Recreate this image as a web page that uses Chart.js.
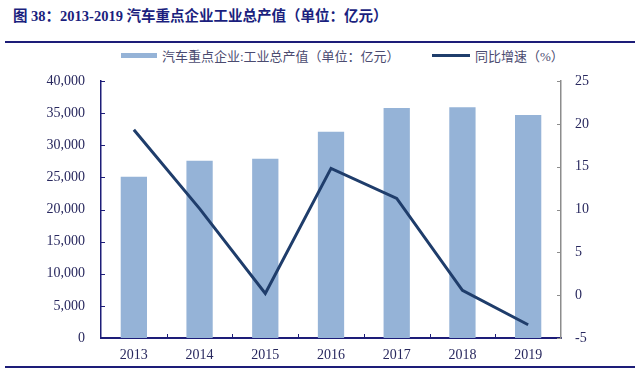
<!DOCTYPE html>
<html>
<head>
<meta charset="utf-8">
<script src="https://cdn.jsdelivr.net/npm/chart.js@4/dist/chart.umd.min.js"></script>
<style>
  body { margin: 0; background: #fff; }
  #wrap { position: relative; width: 640px; height: 369px; overflow: hidden; }
  #title {
    position: absolute; left: 13px; top: 4px;
    font-family: "Liberation Serif", "Noto Sans CJK SC", serif;
    font-weight: bold; font-size: 14.5px; color: #1b1f7e; white-space: nowrap;
  }
  .rule { position: absolute; left: 5px; width: 630px; height: 2px; background: #1d1d78; }
  .legend-item {
    position: absolute; top: 46px; height: 18px; display: flex; align-items: center;
    font-family: "Liberation Serif", "Noto Sans CJK SC", serif; font-size: 13px; color: #4b4b70;
    white-space: nowrap;
  }
  .legend-item i { display: inline-block; margin-right: 5px; }
  canvas { position: absolute; left: 0; top: 0; }
</style>
</head>
<body>
<div id="wrap">
  <div id="title">图 38：2013-2019 汽车重点企业工业总产值（单位：亿元）</div>
  <div class="rule" style="top:41px"></div>
  <div id="legend"></div>
  <canvas id="chart" width="640" height="369"></canvas>
  <div class="rule" style="top:366px"></div>
</div>
<script>
const years = ['2013', '2014', '2015', '2016', '2017', '2018', '2019'];
const outputValue = [25100, 27600, 27900, 32100, 35800, 35900, 34700];
const growthRate = [19.3, 10.1, 0.2, 14.8, 11.3, 0.55, -3.45];
const seriesNames = ['汽车重点企业:工业总产值（单位：亿元）', '同比增速（%）'];

const barColor = '#95b3d7';
const lineColor = '#1f3d6b';
const navy = '#1d1d78';
const labelColor = '#28285e';

// legend as html, built from the series names
const legend = document.getElementById('legend');
[[121, 36, 5, barColor], [432, 38, 3, lineColor]].forEach((cfg, i) => {
    const item = document.createElement('div');
    item.className = 'legend-item';
    item.style.left = cfg[0] + 'px';
    item.innerHTML = '<i style="width:' + cfg[1] + 'px;height:' + cfg[2] + 'px;background:' + cfg[3] + '"></i>' + seriesNames[i];
    legend.appendChild(item);
});

// little tick marks pointing into the plot
const innerTicks = {
    id: 'innerTicks',
    afterDraw(chart) {
        const ctx = chart.ctx;
        const area = chart.chartArea;
        ctx.save();
        ctx.lineWidth = 1;
        const y = chart.scales.y;
        ctx.strokeStyle = navy;
        y.ticks.forEach((t, i) => {
            const p = Math.round(y.getPixelForTick(i)) + 0.5;
            ctx.beginPath(); ctx.moveTo(area.left, p); ctx.lineTo(area.left + 4, p); ctx.stroke();
        });
        const y2 = chart.scales.y2;
        ctx.strokeStyle = '#8c8c8c';
        y2.ticks.forEach((t, i) => {
            const p = Math.round(y2.getPixelForTick(i)) + 0.5;
            ctx.beginPath(); ctx.moveTo(area.right, p); ctx.lineTo(area.right - 4, p); ctx.stroke();
        });
        const x = chart.scales.x;
        ctx.strokeStyle = navy;
        for (let i = 1; i < years.length; i++) {
            const p = Math.round((x.getPixelForTick(i - 1) + x.getPixelForTick(i)) / 2) + 0.5;
            ctx.beginPath(); ctx.moveTo(p, area.bottom); ctx.lineTo(p, area.bottom - 4); ctx.stroke();
        }
        ctx.restore();
    }
};

const tickFont = { family: '"Liberation Serif", "Times New Roman", serif', size: 14 };

new Chart(document.getElementById('chart'), {
    data: {
        labels: years,
        datasets: [
            {
                type: 'line',
                label: seriesNames[1],
                data: growthRate,
                yAxisID: 'y2',
                borderColor: lineColor,
                borderWidth: 3,
                pointRadius: 0,
                tension: 0,
                order: 0
            },
            {
                type: 'bar',
                label: seriesNames[0],
                data: outputValue,
                yAxisID: 'y',
                backgroundColor: barColor,
                categoryPercentage: 1,
                barPercentage: 0.4,
                order: 1
            }
        ]
    },
    options: {
        responsive: false,
        animation: false,
        layout: { padding: { top: 81, left: 0, right: 0, bottom: 0 } },
        plugins: { legend: { display: false }, tooltip: { enabled: false } },
        scales: {
            x: {
                offset: true,
                grid: { display: false },
                border: { display: true, color: navy, width: 2 },
                ticks: { color: labelColor, font: tickFont, padding: 1, maxRotation: 0 },
                afterFit: s => { s.height = 31; }
            },
            y: {
                position: 'left',
                min: 0, max: 40000,
                grid: { display: false },
                border: { display: true, color: navy, width: 1.5 },
                ticks: {
                    stepSize: 5000, color: labelColor, font: tickFont, padding: 8,
                    callback: v => v.toLocaleString('en-US')
                },
                afterFit: s => { s.width = 101; }
            },
            y2: {
                position: 'right',
                min: -5, max: 25,
                grid: { display: false },
                border: { display: true, color: '#8c8c8c', width: 1.5 },
                ticks: { stepSize: 5, color: labelColor, font: tickFont, padding: 6 },
                afterFit: s => { s.width = 79; }
            }
        }
    },
    plugins: [innerTicks]
});
</script>
</body>
</html>
